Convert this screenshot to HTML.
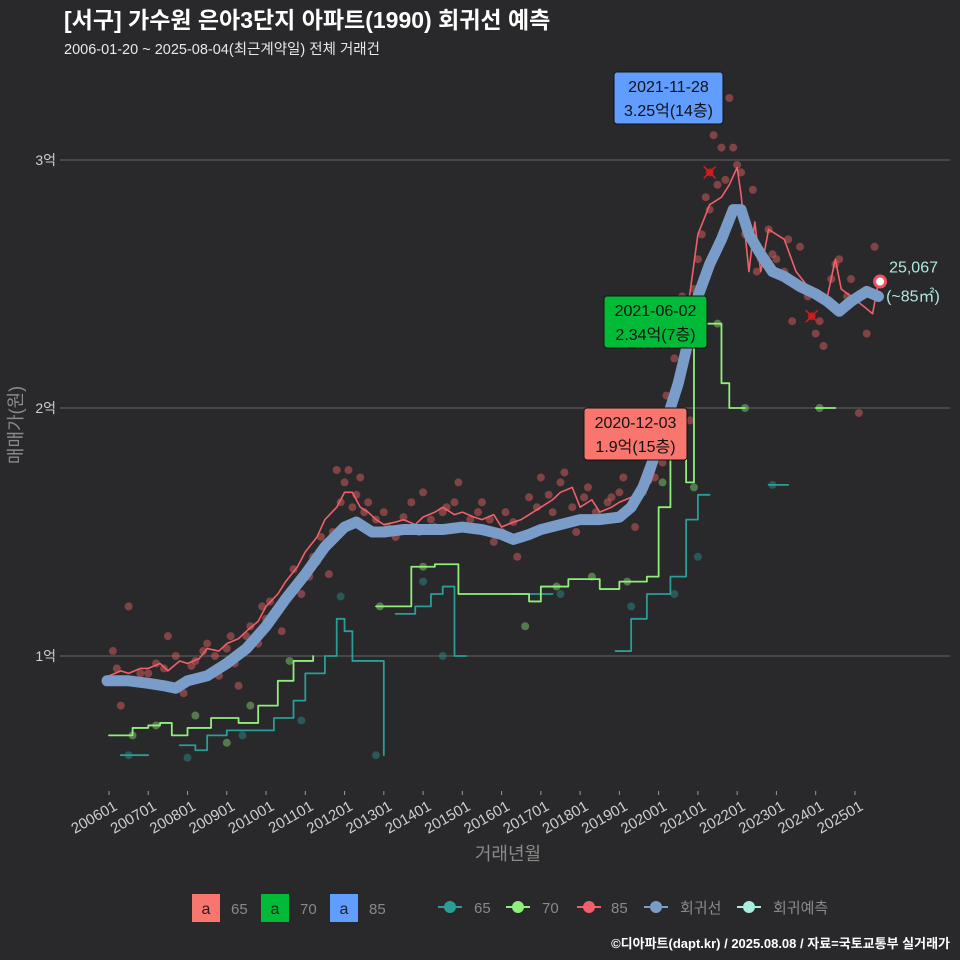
<!DOCTYPE html>
<html><head><meta charset="utf-8">
<style>
html,body{margin:0;padding:0;background:#29282a;}
svg{display:block;font-family:"Liberation Sans","Noto Sans CJK KR",sans-serif;}
</style></head>
<body>
<svg id="chart" width="960" height="960" viewBox="0 0 960 960">
<rect x="0" y="0" width="960" height="960" fill="#29282a"/>
<text x="64" y="28" font-size="23" font-weight="bold" fill="#ffffff">[서구] 가수원 은아3단지 아파트(1990) 회귀선 예측</text>
<text x="64" y="54" font-size="14.5" fill="#e8e8e8">2006-01-20 ~ 2025-08-04(최근계약일) 전체 거래건</text>
<g id="grid"></g>
<g id="marks"></g>
<g id="axes"></g>
<text x="508" y="860" font-size="18" fill="#8a8a8a" text-anchor="middle">거래년월</text>
<text transform="translate(22,425) rotate(-90)" font-size="18" fill="#8a8a8a" text-anchor="middle">매매가(원)</text>
<g>
 <rect x="192" y="894" width="28" height="28" fill="#f8766d"/>
 <text x="206" y="914" font-size="16" fill="#222" text-anchor="middle">a</text>
 <text x="231" y="914" font-size="15" fill="#8a8a8a">65</text>
 <rect x="261" y="894" width="28" height="28" fill="#00ba38"/>
 <text x="275" y="914" font-size="16" fill="#222" text-anchor="middle">a</text>
 <text x="300" y="914" font-size="15" fill="#8a8a8a">70</text>
 <rect x="330" y="894" width="28" height="28" fill="#619cff"/>
 <text x="344" y="914" font-size="16" fill="#222" text-anchor="middle">a</text>
 <text x="369" y="914" font-size="15" fill="#8a8a8a">85</text>
 <g><line x1="438" y1="907" x2="462" y2="907" stroke="#2a9d96" stroke-width="2"/><circle cx="450" cy="907" r="6" fill="#2a9d96"/><text x="474" y="913" font-size="15" fill="#8a8a8a">65</text></g>
 <g><line x1="506" y1="907" x2="530" y2="907" stroke="#90ee7a" stroke-width="2"/><circle cx="518" cy="907" r="6" fill="#90ee7a"/><text x="542" y="913" font-size="15" fill="#8a8a8a">70</text></g>
 <g><line x1="577" y1="907" x2="601" y2="907" stroke="#f0606a" stroke-width="2"/><circle cx="589" cy="907" r="6" fill="#f0606a"/><text x="611" y="913" font-size="15" fill="#8a8a8a">85</text></g>
 <g><line x1="644" y1="907" x2="668" y2="907" stroke="#7a9cc8" stroke-width="2"/><circle cx="656" cy="907" r="6" fill="#7a9cc8"/><text x="680" y="913" font-size="15" fill="#8a8a8a">회귀선</text></g>
 <g><line x1="737" y1="907" x2="761" y2="907" stroke="#a8ede0" stroke-width="2"/><circle cx="749" cy="907" r="6" fill="#a8ede0"/><text x="773" y="913" font-size="15" fill="#8a8a8a">회귀예측</text></g>
</g>
<text x="950" y="948" font-size="13" font-weight="bold" fill="#ffffff" text-anchor="end">©디아파트(dapt.kr) / 2025.08.08 / 자료=국토교통부 실거래가</text>
</svg>
<script>
const yTicks=[1,2,3];
const xTickYears=[2006,2007,2008,2009,2010,2011,2012,2013,2014,2015,2016,2017,2018,2019,2020,2021,2022,2023,2024,2025];
const regYears=[2005.95,2006.5,2007.0,2007.4,2007.7,2008.0,2008.5,2009.0,2009.5,2010.0,2010.5,2011.0,2011.5,2012.0,2012.3,2012.7,2013.0,2013.5,2014.0,2014.5,2015.0,2015.5,2016.0,2016.3,2016.7,2017.0,2017.5,2018.0,2018.5,2019.0,2019.3,2019.6,2020.0,2020.5,2020.8,2021.0,2021.3,2021.6,2021.9,2022.1,2022.3,2022.6,2022.9,2023.2,2023.6,2024.0,2024.3,2024.6,2024.9,2025.3,2025.6];
const regValues=[0.90,0.90,0.89,0.88,0.87,0.90,0.92,0.97,1.03,1.12,1.23,1.33,1.44,1.52,1.54,1.50,1.50,1.51,1.51,1.51,1.52,1.51,1.49,1.47,1.49,1.51,1.53,1.55,1.55,1.56,1.60,1.68,1.85,2.10,2.30,2.45,2.58,2.68,2.80,2.80,2.70,2.62,2.55,2.53,2.49,2.46,2.43,2.39,2.43,2.47,2.45];
const redYears=[2006.0,2006.3,2006.5,2006.8,2007.0,2007.3,2007.5,2007.8,2008.0,2008.3,2008.5,2008.8,2009.0,2009.3,2009.5,2009.8,2010.0,2010.3,2010.5,2010.8,2011.0,2011.3,2011.5,2011.8,2012.0,2012.2,2012.4,2012.6,2012.8,2013.0,2013.3,2013.5,2013.8,2014.0,2014.3,2014.5,2014.8,2015.0,2015.3,2015.5,2015.8,2016.0,2016.3,2016.5,2016.8,2017.0,2017.3,2017.5,2017.8,2018.0,2018.3,2018.5,2018.8,2019.0,2019.3,2019.5,2019.8,2020.0,2020.2,2020.4,2020.7,2021.0,2021.3,2021.6,2021.8,2022.0,2022.1,2022.3,2022.45,2022.6,2022.8,2023.2,2023.5,2024.0,2024.3,2024.5,2024.65,2024.9,2025.3,2025.45,2025.6];
const redValues=[0.92,0.94,0.93,0.95,0.95,0.97,0.94,0.98,0.97,0.99,1.03,1.02,1.05,1.07,1.10,1.14,1.20,1.25,1.30,1.36,1.42,1.48,1.55,1.60,1.66,1.66,1.60,1.58,1.55,1.53,1.54,1.55,1.53,1.56,1.58,1.60,1.57,1.58,1.56,1.55,1.57,1.52,1.54,1.55,1.58,1.60,1.63,1.66,1.68,1.60,1.63,1.58,1.60,1.62,1.64,1.66,1.70,1.80,1.88,2.00,2.35,2.70,2.82,2.85,2.90,2.97,2.86,2.55,2.75,2.55,2.72,2.68,2.55,2.45,2.45,2.60,2.48,2.45,2.40,2.38,2.51];
const greenYears=[2006.0,2006.5,2006.6,2007.0,2007.3,2007.6,2008.0,2008.6,2009.0,2009.3,2009.8,2010.3,2010.7,2011.2];
const greenValues=[0.68,0.68,0.71,0.72,0.73,0.68,0.71,0.75,0.75,0.73,0.80,0.90,0.98,1.00];
const green2Years=[2012.8,2013.3,2013.7,2014.3,2014.9,2015.3,2015.8,2016.7,2017.0,2017.3,2017.7,2018.0,2018.5,2019.0,2019.7,2020.0,2020.3,2020.7,2020.9,2021.4,2021.6,2021.8,2022.2];
const green2Values=[1.20,1.20,1.36,1.37,1.25,1.25,1.25,1.22,1.28,1.28,1.31,1.31,1.27,1.30,1.32,1.60,1.85,1.70,2.34,2.34,2.10,2.00,2.00];
const green3Years=[2024.0,2024.5];
const green3Values=[2.00,2.00];
const tealYears=[2006.3,2007.0];
const tealValues=[0.60,0.60];
const teal2Years=[2007.8,2008.2,2008.5,2009.0,2009.7,2010.2,2010.7,2011.0,2011.5,2011.8,2012.0,2012.2,2012.8,2013.0];
const teal2Values=[0.64,0.62,0.68,0.70,0.70,0.75,0.82,0.93,1.00,1.15,1.10,0.98,0.98,0.60];
const teal3Years=[2013.3,2013.8,2014.2,2014.5,2014.8,2015.1];
const teal3Values=[1.17,1.20,1.25,1.28,1.00,1.00];
const teal4Years=[2016.3,2017.3];
const teal4Values=[1.25,1.25];
const teal5Years=[2018.9,2019.3,2019.7,2020.3,2020.7,2021.0,2021.3];
const teal5Values=[1.02,1.15,1.25,1.32,1.55,1.65,1.65];
const teal6Years=[2022.8,2023.3];
const teal6Values=[1.69,1.69];
const dotYears=[2006.1,2006.3,2006.5,2006.8,2007.2,2007.5,2007.9,2008.2,2008.5,2008.8,2009.1,2009.3,2009.6,2009.9,2010.1,2010.4,2010.7,2010.9,2011.2,2011.4,2011.6,2011.8,2012.0,2012.2,2012.4,2012.6,2013.0,2013.3,2013.7,2014.0,2014.3,2014.6,2014.9,2015.2,2015.5,2015.8,2016.1,2016.4,2016.7,2017.0,2017.3,2017.6,2017.9,2018.2,2018.5,2018.8,2019.1,2019.4,2019.7,2020.0,2020.2,2020.4,2020.6,2020.8,2021.0,2021.2,2021.4,2021.6,2021.8,2022.0,2022.2,2022.4,2022.6,2022.8,2023.0,2023.2,2023.4,2023.6,2023.8,2024.0,2024.2,2024.4,2024.6,2024.9,2025.1,2025.3,2025.5];
const dotValues=[1.02,0.80,1.20,0.93,0.97,1.08,0.85,0.98,1.05,0.92,1.08,0.88,1.12,1.20,1.22,1.10,1.35,1.25,1.40,1.48,1.33,1.75,1.70,1.60,1.72,1.62,1.58,1.48,1.62,1.66,1.52,1.60,1.70,1.55,1.62,1.46,1.58,1.40,1.64,1.72,1.58,1.74,1.50,1.68,1.56,1.64,1.72,1.52,1.70,1.85,2.05,2.20,2.45,1.95,2.60,2.85,3.10,3.05,3.25,2.98,2.70,2.88,2.60,2.72,2.60,2.55,2.35,2.65,2.45,2.30,2.25,2.52,2.60,2.52,1.98,2.30,2.65];
const dot2Years=[2006.2,2006.6,2007.0,2007.4,2007.7,2008.1,2008.4,2008.7,2009.0,2009.2,2009.5,2009.8,2010.0,2010.3,2010.6,2010.8,2011.1,2011.3,2011.5,2011.7,2011.9,2012.1,2012.3,2012.5,2012.8,2013.1,2013.5,2013.9,2014.2,2014.5,2014.8,2015.1,2015.4,2015.7,2016.0,2016.3,2016.6,2016.9,2017.2,2017.5,2017.8,2018.1,2018.4,2018.7,2019.0,2019.3,2019.6,2019.9,2020.1,2020.3,2020.5,2020.7,2020.9,2021.1,2021.3,2021.5,2021.7,2021.9,2022.1,2022.5,2022.9,2023.3,2023.7,2024.1,2024.5,2024.8];
const dot2Values=[0.95,0.90,0.93,0.95,1.00,0.96,1.02,1.00,1.03,0.97,1.08,1.05,1.15,1.18,1.25,1.30,1.32,1.38,1.45,1.50,1.62,1.75,1.65,1.58,1.55,1.52,1.56,1.50,1.55,1.58,1.62,1.52,1.58,1.55,1.50,1.54,1.48,1.60,1.65,1.70,1.60,1.64,1.58,1.62,1.66,1.60,1.66,1.72,1.78,1.90,2.10,2.30,2.48,2.70,2.80,2.90,2.92,3.05,2.95,2.55,2.62,2.68,2.48,2.35,2.58,2.45];
const g70DotYears=[2006.6,2007.2,2008.2,2009.0,2009.6,2010.6,2012.9,2014.0,2016.6,2017.4,2018.3,2019.2,2020.1,2020.9,2021.5,2022.2,2024.1];
const g70DotValues=[0.68,0.72,0.76,0.65,0.80,0.98,1.20,1.36,1.12,1.28,1.32,1.30,1.70,1.68,2.34,2.00,2.00];
const t65DotYears=[2006.5,2008.0,2009.4,2010.9,2011.9,2012.8,2014.0,2014.5,2017.5,2019.3,2020.4,2021.0,2022.9];
const t65DotValues=[0.60,0.59,0.68,0.74,1.24,0.60,1.30,1.00,1.25,1.20,1.25,1.40,1.69];

const NS='http://www.w3.org/2000/svg';
function X(yr){return 109+(yr-2006)*39.26;}
function Y(v){return 656-(v-1)*248;}
function mk(tag,attrs,parent){const e=document.createElementNS(NS,tag);for(const k in attrs)e.setAttribute(k,attrs[k]);parent.appendChild(e);return e;}
const grid=document.getElementById('grid'),marks=document.getElementById('marks'),axes=document.getElementById('axes');
yTicks.forEach(t=>{
 const l=mk('line',{x1:60,x2:950,y1:Y(t),y2:Y(t),stroke:'#5a5a5a','stroke-width':1.2},grid);
 
 
 const tx=mk('text',{x:56,y:Y(t)+5,'font-size':14,fill:'#cfcfcf','text-anchor':'end'},axes);
 tx.textContent=t+'억';
 
 
});
xTickYears.forEach(yr=>{
 const x=X(yr);
 const tk=mk('line',{x1:x,x2:x,y1:791,y2:795,stroke:'#9a9a9a'},axes);
 
 
 const tx=mk('text',{transform:`translate(${x+4},${800}) rotate(-30)`,'font-size':15,fill:'#cfcfcf','text-anchor':'end','dominant-baseline':'hanging'},axes);
 tx.textContent=yr+'01';
 
 
});
function poly(xs,vs,color,w,name,step){
 let pts=[];
 for(let i=0;i<xs.length;i++){
  if(step&&i>0)pts.push(X(xs[i])+','+Y(vs[i-1]));
  pts.push(X(xs[i])+','+Y(vs[i]));
 }
 const p=mk('polyline',{points:pts.join(' '),fill:'none',stroke:color,'stroke-width':w,'stroke-linejoin':'round','stroke-linecap':'round'},marks);
 
 
}
function dots(xs,vs,color,name){
 for(let i=0;i<xs.length;i++){
  const c=mk('circle',{cx:X(xs[i]),cy:Y(vs[i]),r:4,fill:color,'fill-opacity':0.5},marks);
  
  
 }
}
dots(dotYears,dotValues,'#d9605f','point-85');
dots(dot2Years,dot2Values,'#d9605f','point-85');
dots(g70DotYears,g70DotValues,'#7fcc70','point-70');
dots(t65DotYears,t65DotValues,'#2a8a85','point-65');
[[tealYears,tealValues],[teal2Years,teal2Values],[teal3Years,teal3Values],[teal4Years,teal4Values],[teal5Years,teal5Values],[teal6Years,teal6Values]].forEach(s=>poly(s[0],s[1],'#2a9d96',1.8,'line-65',true));
[[greenYears,greenValues],[green2Years,green2Values],[green3Years,green3Values]].forEach(s=>poly(s[0],s[1],'#90ee7a',1.8,'line-70',true));
poly(redYears,redValues,'#f0606a',1.6,'line-85',false);
poly(regYears,regValues,'#7a9cc8',11,'regression-line',false);
[[2021.3,2.95],[2023.9,2.37]].forEach(p=>{
 const g=mk('g',{},marks);
 
 
 const x=X(p[0]),y=Y(p[1]);
 mk('circle',{cx:x,cy:y,r:4,fill:'#c01818'},g);
 mk('path',{d:`M${x-6},${y-6}L${x+6},${y+6}M${x-6},${y+6}L${x+6},${y-6}`,stroke:'#d02020','stroke-width':1.5},g);
});
const fx=X(2025.64),fy=Y(2.51);
const fc=mk('circle',{cx:fx,cy:fy,r:5.5,fill:'#ffffff',stroke:'#f05060','stroke-width':3},marks);


const f1=mk('text',{x:fx+9,y:fy-9,'font-size':16,fill:'#aee8e0'},marks);f1.textContent='25,067';


const f2=mk('text',{x:fx+6,y:fy+20,'font-size':16,fill:'#aee8e0'},marks);f2.textContent='(~85㎡)';


function box(x,y,w,h,color,l1,l2,name){
 const g=mk('g',{},marks);
 
 
 mk('rect',{x:x,y:y,width:w,height:h,rx:3,fill:color,stroke:'#111','stroke-width':1},g);
 const a=mk('text',{x:x+w/2,y:y+20,'font-size':16,fill:'#111','text-anchor':'middle'},g);a.textContent=l1;
 const b=mk('text',{x:x+w/2,y:y+44,'font-size':16,fill:'#111','text-anchor':'middle'},g);b.textContent=l2;
}
box(614,72,109,52,'#619cff','2021-11-28','3.25억(14층)','max-85-annotation');
box(604,296,103,52,'#00ba38','2021-06-02','2.34억(7층)','max-70-annotation');
box(584,408,103,52,'#f8766d','2020-12-03','1.9억(15층)','max-65-annotation');
</script>
</body></html>
